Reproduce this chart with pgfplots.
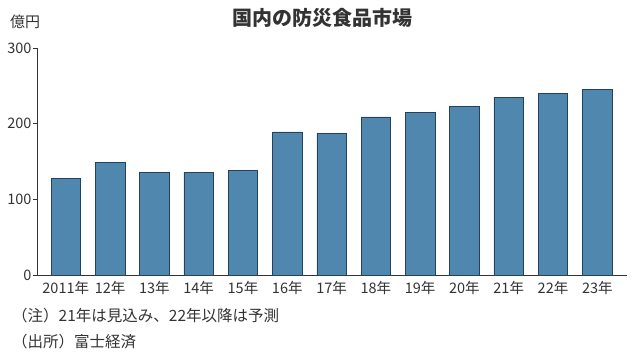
\documentclass[border=0pt]{standalone}
\usepackage{fontspec}
\setmainfont{Noto Sans CJK JP}
\usepackage{pgfplots}
\pgfplotsset{compat=1.18}
\definecolor{barblue}{HTML}{4F87AE}
\definecolor{baredge}{HTML}{24425A}
\definecolor{txt}{HTML}{333333}
\begin{document}
\begin{tikzpicture}[x=1pt,y=1pt]
\useasboundingbox (-37,-82) rectangle (601,275);
\begin{axis}[
  at={(0,0)}, anchor=south west,
  scale only axis, width=590pt, height=227pt,
  xmin=-0.65, xmax=12.67, ymin=0, ymax=300,
  axis x line*=bottom, axis y line*=left,
  axis line style={-, draw=txt, line width=0.8pt},
  ybar, bar width=29.5pt,
  xtick=data,
  xticklabels={2011年,12年,13年,14年,15年,16年,17年,18年,19年,20年,21年,22年,23年},
  ytick={0,100,200,300},
  xtick style={draw=none},
  ytick style={draw=txt, line width=0.6pt},
  tick align=outside, major tick length=4pt,
  /pgf/number format/assume math mode=true,
  tick label style={font=\fontsize{14.5}{16}\selectfont, text=txt},
  yticklabel style={xshift=2pt},
  xticklabel style={yshift=1pt},
  clip=false,
]
\addplot[fill=barblue, draw=baredge, line width=0.6pt] coordinates {
(0,128) (1,149) (2,136) (3,136) (4,138) (5,189) (6,187) (7,209) (8,215) (9,223) (10,235) (11,240) (12,245)};
\end{axis}
\node[font=\bfseries\fontsize{20}{22}\selectfont, text=txt] at (285,257) {国内の防災食品市場};
\node[anchor=west, font=\fontsize{15}{16}\selectfont, text=txt, inner sep=0pt] at (-27,253) {億円};
\node[anchor=west, font=\fontsize{15.5}{16}\selectfont, text=txt, inner sep=0pt] at (-25,-41) {（注）21年は見込み、22年以降は予測};
\node[anchor=west, font=\fontsize{15.5}{16}\selectfont, text=txt, inner sep=0pt] at (-25,-67) {（出所）富士経済};
\end{tikzpicture}
\end{document}
